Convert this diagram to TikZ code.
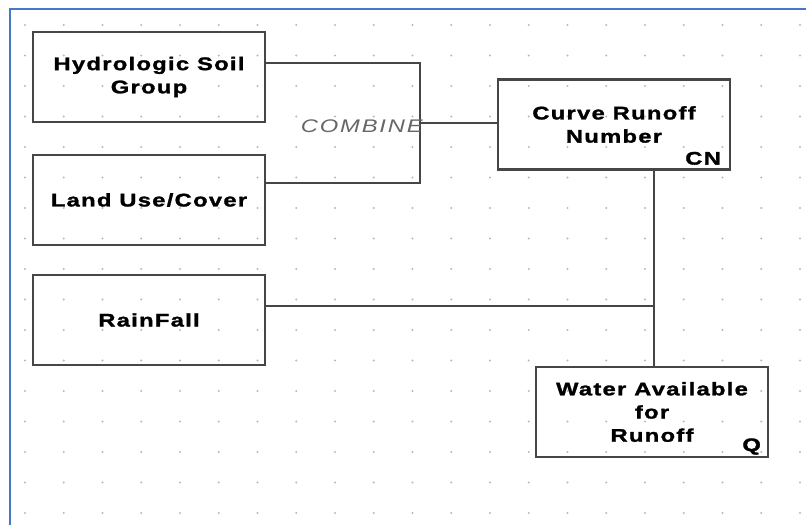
\documentclass[tikz,border=0pt]{standalone}
\usepackage{fontspec}
\setmainfont{Liberation Sans}
\newfontfamily\boxfont[FakeStretch=1.3,LetterSpace=7,FakeBold=1.5]{Liberation Sans}
\newfontfamily\joinfont[FakeStretch=1.3,LetterSpace=10]{Liberation Sans}
\usetikzlibrary{calc}
\definecolor{frameblue}{RGB}{70,120,200}
\definecolor{linegray}{RGB}{70,70,70}

\begin{document}
\begin{tikzpicture}[x = 0.025cm, y = -0.025cm,
    blk/.style = {draw = linegray, line width = 1.6pt, rectangle, inner sep = 0pt,
        minimum width = 5.8cm, minimum height = 2.25cm, align = center,
        font = \boxfont\bfseries\fontsize{13}{16.5}\selectfont},
    tag/.style = {anchor = base east, inner sep = 0pt, font = \boxfont\bfseries\fontsize{13}{16.5}\selectfont},
    wire/.style = {draw = linegray, line width = 1.1pt}]
    \useasboundingbox (0,0) rectangle (806,525);
    % grid of dots
    \foreach \i in {0,...,20}
        \foreach \j in {0,...,16}
            \path[fill = gray!55](25+38.75*\i, 25+30.5*\j)circle(0.8pt);
    % frame
    \path[draw, frameblue, line width = 1.5pt](806,9)to(10,9)to(10,525);
    % boxes
    \node[blk](hsg)at(149,77){Hydrologic Soil\\Group};
    \node[blk](luc)at(149,200){\raisebox{-6pt}{Land Use/Cover}};
    \node[blk](rain)at(149,320){\raisebox{-3pt}{RainFall}};
    \node[blk](crn)at(614,124.5){\raisebox{-2pt}{Curve Runoff}\\\raisebox{-2pt}{Number}};
    \node[blk](wat)at(652,412){Water Available\\for\\Runoff};
    % tags
    \node[tag](cn)at($(crn.south east)+(-10,-6)$){CN};
    \node[tag](q)at($(wat.south east)+(-8,-7)$){Q};
    % combine
    \coordinate(cmbtop)at(420,63);
    \coordinate(cmbbot)at(420,183);
    \coordinate(cmb)at(420,123);
    \path[wire](hsg.east |- cmbtop)to(cmbtop)to(cmbbot)to(luc.east |- cmbbot);
    \path[wire](cmb)to(crn.west |- cmb);
    \node[anchor = east, inner sep = 0pt, text = black!60,
        font = \joinfont\itshape\fontsize{13}{16}\selectfont](cmblabel)at($(cmb)+(3,3)$){COMBINE};
    % runoff
    \coordinate(tee)at(654,306);
    \path[wire](crn.south -| tee)to(wat.north -| tee);
    \path[wire](rain.east |- tee)to(tee);
\end{tikzpicture}
\end{document}
